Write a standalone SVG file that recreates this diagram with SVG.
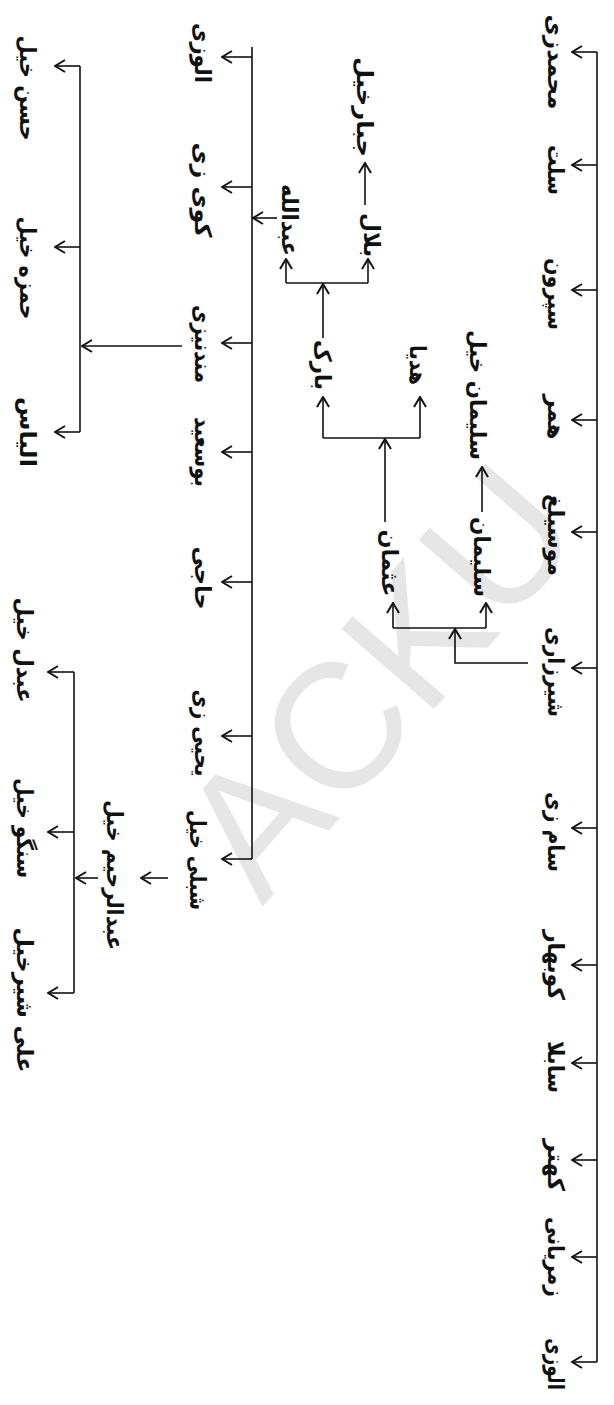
<svg xmlns="http://www.w3.org/2000/svg" width="614" height="1405" viewBox="0 0 614 1405">
<defs>
<style>
.lbl{font-family:"DejaVu Sans","Noto Sans",sans-serif;font-size:23px;font-weight:bold;fill:#111;text-anchor:middle;dominant-baseline:central;direction:rtl}
.wm{font-family:"Liberation Sans",Arial,sans-serif;font-size:178px;fill:#e6e6e6;text-anchor:middle;dominant-baseline:central}
.ln{fill:none;stroke:#111;stroke-width:1.6}
.ar{fill:none;stroke:#111;stroke-width:1.6;marker-end:url(#arr)}
</style>
<marker id="arr" viewBox="0 0 12 14" markerWidth="12" markerHeight="14" refX="11" refY="7" orient="auto" markerUnits="userSpaceOnUse">
<path d="M1,1 L11,7 L1,13" fill="none" stroke="#111" stroke-width="2"/>
</marker>
</defs>
<rect width="614" height="1405" fill="#fff"/>
<text class="wm" x="378" y="680" transform="rotate(-49 378 680)">ACKU</text>

<g id="connectors">
<path class="ln" d="M597,52 V1362"/>
<path class="ar" d="M597,52 H572"/>
<path class="ar" d="M597,165 H572"/>
<path class="ar" d="M597,290 H572"/>
<path class="ar" d="M597,420 H572"/>
<path class="ar" d="M597,532 H572"/>
<path class="ar" d="M597,668 H572"/>
<path class="ar" d="M597,828 H572"/>
<path class="ar" d="M597,965 H572"/>
<path class="ar" d="M597,1063 H572"/>
<path class="ar" d="M597,1160 H572"/>
<path class="ar" d="M597,1257 H572"/>
<path class="ar" d="M597,1362 H572"/>

<path class="ar" d="M528,663 H455 V629"/>
<path class="ln" d="M393,628 H486"/>
<path class="ar" d="M393,628 V603"/>
<path class="ar" d="M486,628 V603"/>
<path class="ar" d="M482,512 V467"/>
<path class="ar" d="M385,522 V439"/>
<path class="ln" d="M323,438 H420"/>
<path class="ar" d="M323,438 V397"/>
<path class="ar" d="M420,438 V397"/>
<path class="ar" d="M323,338 V284"/>
<path class="ln" d="M286,283 H368"/>
<path class="ar" d="M286,283 V259"/>
<path class="ar" d="M368,283 V259"/>
<path class="ar" d="M365,205 V163"/>
<path class="ar" d="M277,218 H253"/>

<path class="ln" d="M252,47 V859"/>
<path class="ar" d="M252,57 H222"/>
<path class="ar" d="M252,187 H222"/>
<path class="ar" d="M252,343 H222"/>
<path class="ar" d="M252,452 H222"/>
<path class="ar" d="M252,582 H222"/>
<path class="ar" d="M252,736 H222"/>
<path class="ar" d="M252,859 H222"/>

<path class="ar" d="M182,346 H82"/>
<path class="ln" d="M80,66 V432"/>
<path class="ar" d="M80,66 H55"/>
<path class="ar" d="M80,247 H55"/>
<path class="ar" d="M80,432 H55"/>

<path class="ar" d="M168,878 H141"/>
<path class="ar" d="M98,878 H76"/>
<path class="ln" d="M74,672 V993"/>
<path class="ar" d="M74,672 H48"/>
<path class="ar" d="M74,832 H48"/>
<path class="ar" d="M74,993 H48"/>
</g>

<g id="n-mohammadzai"><text class="lbl" x="556" y="62" transform="rotate(90 556 62)" textLength="95" lengthAdjust="spacingAndGlyphs">محمدزی</text></g>
<g id="n-salat"><text class="lbl" x="556" y="170" transform="rotate(90 556 170)" textLength="50" lengthAdjust="spacingAndGlyphs">سلت</text></g>
<g id="n-sparun"><text class="lbl" x="556" y="294" transform="rotate(90 556 294)" textLength="72" lengthAdjust="spacingAndGlyphs">سپرون</text></g>
<g id="n-hamar"><text class="lbl" x="556" y="417" transform="rotate(90 556 417)" textLength="45" lengthAdjust="spacingAndGlyphs">همر</text></g>
<g id="n-musilagh"><text class="lbl" x="556" y="535" transform="rotate(90 556 535)" textLength="82" lengthAdjust="spacingAndGlyphs">موسیلغ</text></g>
<g id="n-shirzari"><text class="lbl" x="556" y="672" transform="rotate(90 556 672)" textLength="90" lengthAdjust="spacingAndGlyphs">شیرزاری</text></g>
<g id="n-samzai"><text class="lbl" x="556" y="832" transform="rotate(90 556 832)" textLength="80" lengthAdjust="spacingAndGlyphs">سام زی</text></g>
<g id="n-kubahar"><text class="lbl" x="556" y="965" transform="rotate(90 556 965)" textLength="70" lengthAdjust="spacingAndGlyphs">کوبهار</text></g>
<g id="n-sabla"><text class="lbl" x="556" y="1067" transform="rotate(90 556 1067)" textLength="52" lengthAdjust="spacingAndGlyphs">سابلا</text></g>
<g id="n-kahtar"><text class="lbl" x="556" y="1165" transform="rotate(90 556 1165)" textLength="52" lengthAdjust="spacingAndGlyphs">کهتر</text></g>
<g id="n-zamaryani"><text class="lbl" x="556" y="1257" transform="rotate(90 556 1257)" textLength="80" lengthAdjust="spacingAndGlyphs">زمریانی</text></g>
<g id="n-alozai1"><text class="lbl" x="556" y="1364" transform="rotate(90 556 1364)" textLength="52" lengthAdjust="spacingAndGlyphs">الوزی</text></g>

<g id="n-sulaimankhel"><text class="lbl" x="478" y="395" transform="rotate(90 478 395)" textLength="130" lengthAdjust="spacingAndGlyphs">سلیمان خیل</text></g>
<g id="n-sulaiman"><text class="lbl" x="482" y="557" transform="rotate(90 482 557)" textLength="80" lengthAdjust="spacingAndGlyphs">سلیمان</text></g>
<g id="n-usman"><text class="lbl" x="390" y="563" transform="rotate(90 390 563)" textLength="67" lengthAdjust="spacingAndGlyphs">عثمان</text></g>
<g id="n-hadya"><text class="lbl" x="418" y="365" transform="rotate(90 418 365)" textLength="40" lengthAdjust="spacingAndGlyphs">هدیا</text></g>
<g id="n-barak"><text class="lbl" x="323" y="365" transform="rotate(90 323 365)" textLength="50" lengthAdjust="spacingAndGlyphs">بارک</text></g>
<g id="n-abdullah"><text class="lbl" x="290" y="220" transform="rotate(90 290 220)" textLength="72" lengthAdjust="spacingAndGlyphs">عبدالله</text></g>
<g id="n-bilal"><text class="lbl" x="372" y="235" transform="rotate(90 372 235)" textLength="44" lengthAdjust="spacingAndGlyphs">بلال</text></g>
<g id="n-jabbarkhel"><text class="lbl" x="365" y="107" transform="rotate(90 365 107)" textLength="100" lengthAdjust="spacingAndGlyphs">جبارخیل</text></g>

<g id="n-alozai2"><text class="lbl" x="203" y="53" transform="rotate(90 203 53)" textLength="60" lengthAdjust="spacingAndGlyphs">الوزی</text></g>
<g id="n-kuyzai"><text class="lbl" x="203" y="190" transform="rotate(90 203 190)" textLength="95" lengthAdjust="spacingAndGlyphs">کوی زی</text></g>
<g id="n-mandanizai"><text class="lbl" x="203" y="344" transform="rotate(90 203 344)" textLength="78" lengthAdjust="spacingAndGlyphs">مندنیزی</text></g>
<g id="n-busaid"><text class="lbl" x="203" y="452" transform="rotate(90 203 452)" textLength="70" lengthAdjust="spacingAndGlyphs">بوسعید</text></g>
<g id="n-haji"><text class="lbl" x="203" y="578" transform="rotate(90 203 578)" textLength="63" lengthAdjust="spacingAndGlyphs">حاجی</text></g>
<g id="n-yahyazai"><text class="lbl" x="203" y="733" transform="rotate(90 203 733)" textLength="87" lengthAdjust="spacingAndGlyphs">یحیی زی</text></g>
<g id="n-shiblikhel"><text class="lbl" x="198" y="860" transform="rotate(90 198 860)" textLength="100" lengthAdjust="spacingAndGlyphs">شبلی خیل</text></g>

<g id="n-hasankhel"><text class="lbl" x="28" y="88" transform="rotate(90 28 88)" textLength="105" lengthAdjust="spacingAndGlyphs">حسن خیل</text></g>
<g id="n-hamzakhel"><text class="lbl" x="28" y="268" transform="rotate(90 28 268)" textLength="103" lengthAdjust="spacingAndGlyphs">حمزه خیل</text></g>
<g id="n-ilyas"><text class="lbl" x="28" y="432" transform="rotate(90 28 432)" textLength="70" lengthAdjust="spacingAndGlyphs">الیاس</text></g>

<g id="n-abdurrahimkhel"><text class="lbl" x="115" y="875" transform="rotate(90 115 875)" textLength="150" lengthAdjust="spacingAndGlyphs">عبدالرحیم خیل</text></g>
<g id="n-abdalkhel"><text class="lbl" x="25" y="650" transform="rotate(90 25 650)" textLength="105" lengthAdjust="spacingAndGlyphs">عبدل خیل</text></g>
<g id="n-sangukhel"><text class="lbl" x="25" y="828" transform="rotate(90 25 828)" textLength="100" lengthAdjust="spacingAndGlyphs">سنگو خیل</text></g>
<g id="n-alishirkhel"><text class="lbl" x="25" y="1000" transform="rotate(90 25 1000)" textLength="145" lengthAdjust="spacingAndGlyphs">علی شیرخیل</text></g>
</svg>
